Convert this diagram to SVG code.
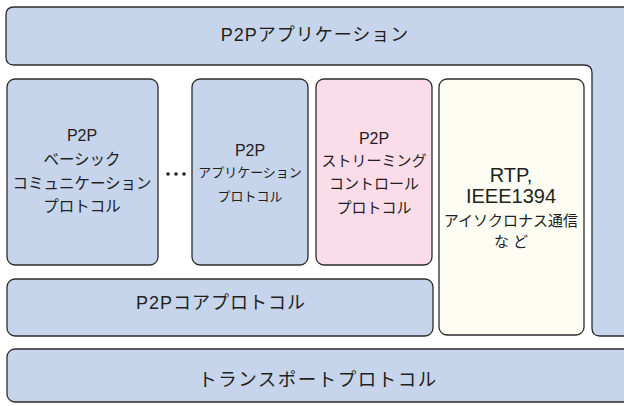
<svg xmlns="http://www.w3.org/2000/svg" width="624" height="406" viewBox="0 0 624 406">
<style>
.box{stroke:#2b2b2b;stroke-width:1.3}
.blue{fill:#c6d4ec}
.pink{fill:#fbdde9}
.beige{fill:#fdfdf4}
text{font-family:'Liberation Sans','Noto Sans CJK JP',sans-serif;fill:#231f20;text-anchor:middle;dominant-baseline:central}
.t18{font-size:18px;letter-spacing:1px}
.t15{font-size:15px}
.t155{font-size:15.5px}
.t16{font-size:16px}
.t13{font-size:13px}
.t20{font-size:20px}
</style>
<rect width="624" height="406" fill="#ffffff"/>
<g id="p2p-application">
<path class="box blue" d="M640 7 H14 Q6 7 6 15 V57 Q6 65 14 65 H584 Q592 65 592 73 V328 Q592 336 600 336 H640 Z"/>
<text class="t18" x="315" y="35">P2Pアプリケーション</text>
</g>
<g id="basic-communication">
<rect class="box blue" x="7" y="79" width="151" height="186" rx="8"/>
<text class="t16" x="82" y="135">P2P</text>
<text class="t155" x="82" y="159">ベーシック</text>
<text class="t155" x="82" y="183">コミュニケーション</text>
<text class="t155" x="82" y="206">プロトコル</text>
</g>
<g id="ellipsis">
<circle cx="168" cy="174" r="1.8" fill="#231f20"/>
<circle cx="176" cy="174" r="1.8" fill="#231f20"/>
<circle cx="184" cy="174" r="1.8" fill="#231f20"/>
</g>
<g id="application-protocol">
<rect class="box blue" x="192" y="79" width="116" height="186" rx="8"/>
<text class="t16" x="250" y="150">P2P</text>
<text class="t13" x="250" y="172">アプリケーション</text>
<text class="t13" x="250" y="196">プロトコル</text>
</g>
<g id="streaming-control">
<rect class="box pink" x="316" y="79" width="116" height="186" rx="8"/>
<text class="t16" x="374" y="138">P2P</text>
<text class="t15" x="374" y="160">ストリーミング</text>
<text class="t15" x="374" y="183">コントロール</text>
<text class="t15" x="374" y="207">プロトコル</text>
</g>
<g id="rtp-ieee1394">
<rect class="box beige" x="439" y="79" width="145" height="256" rx="8"/>
<text class="t20" x="511" y="175">RTP,</text>
<text class="t20" x="511" y="196">IEEE1394</text>
<text class="t15" x="511" y="220">アイソクロナス通信</text>
<text class="t15" x="513" y="241" letter-spacing="4">など</text>
</g>
<g id="core-protocol">
<rect class="box blue" x="7" y="279" width="426" height="57" rx="8"/>
<text class="t18" x="221" y="303" letter-spacing="1.5">P2Pコアプロトコル</text>
</g>
<g id="transport-protocol">
<rect class="box blue" x="7" y="349" width="630" height="53" rx="8"/>
<text x="318" y="379" font-size="18.5" letter-spacing="1.5">トランスポートプロトコル</text>
</g>
<g id="connectors"></g>
</svg>
